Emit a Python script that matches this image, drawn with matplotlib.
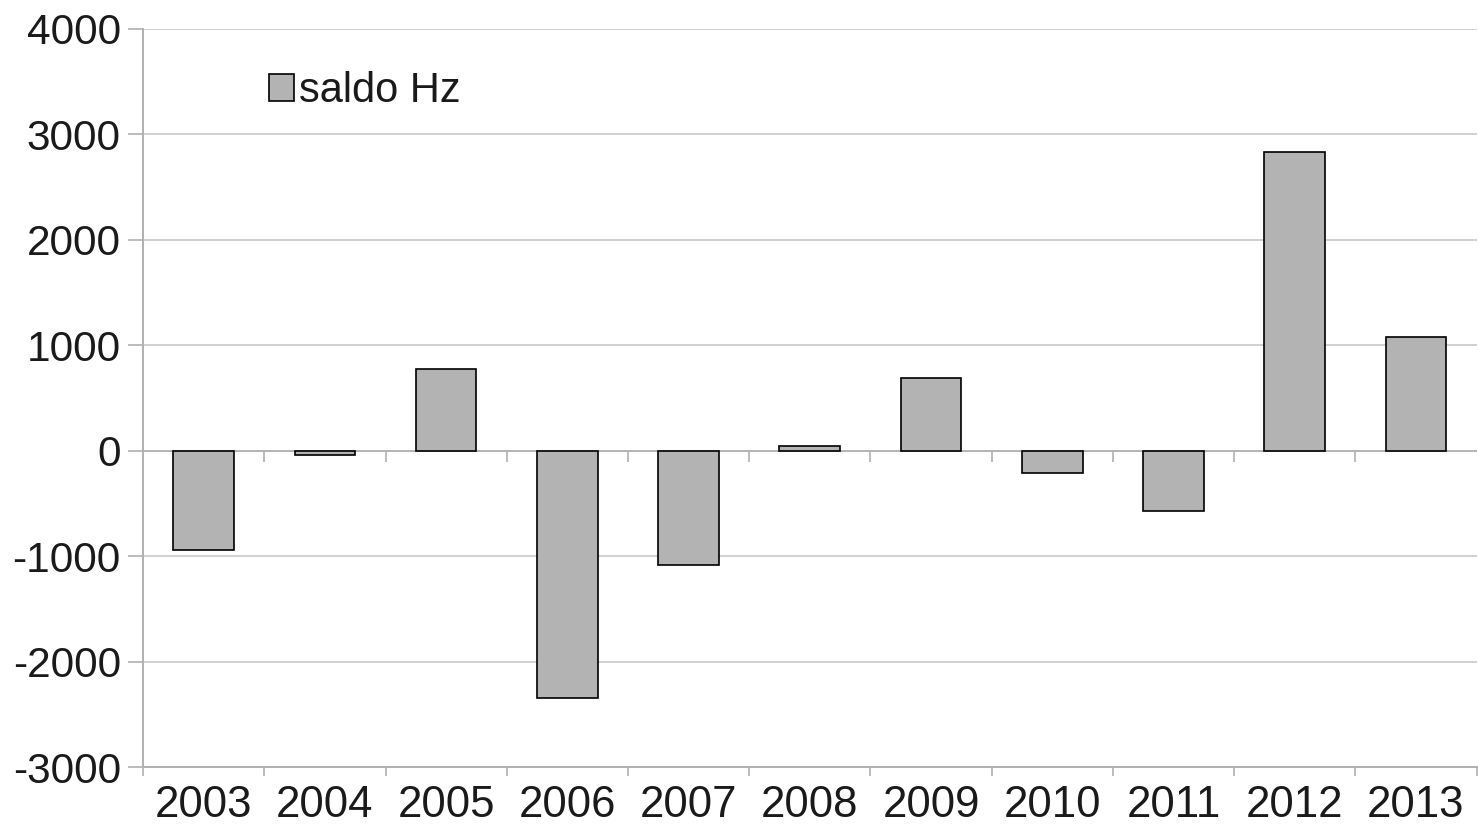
import numpy as np
import matplotlib.pyplot as plt
from matplotlib.transforms import blended_transform_factory

plt.rcParams['font.family'] = ['Liberation Sans', 'DejaVu Sans']
plt.rcParams['axes.unicode_minus'] = False

years = ['2003', '2004', '2005', '2006', '2007', '2008', '2009', '2010', '2011', '2012', '2013']
saldo_hz = [-940, -40, 770, -2345, -1080, 40, 685, -215, -575, 2830, 1080]

fig = plt.figure(figsize=(14.78, 8.25), dpi=100)
ax = fig.add_axes([0.0968, 0.0703, 0.9022, 0.8947])

x = np.arange(len(years))
ax.bar(x, saldo_hz, width=0.5, color='#b3b3b3', edgecolor='black', linewidth=1.2,
       label='saldo Hz', zorder=3)

ax.set_xlim(-0.5, len(years) - 0.5)
ax.set_ylim(-3000, 4000)
ax.set_yticks(np.arange(-3000, 4001, 1000))
ax.yaxis.grid(True, color='#c8c8c8', linewidth=1.2, zorder=0)
ax.set_axisbelow(True)

# category boundaries as ticks, labels centred on categories
ax.set_xticks(np.arange(-0.5, len(years), 1.0))
ax.set_xticklabels([])
ax.set_xticks(x, minor=True)
ax.set_xticklabels(years, minor=True)
ax.tick_params(axis='x', which='minor', length=0, pad=13, labelsize=31.5, labelcolor='#1a1a1a')
ax.tick_params(axis='x', which='major', length=6.5, color='#b0b0b0', width=1.2)
ax.tick_params(axis='y', length=11, color='#b0b0b0', width=1.2, labelsize=30.5, pad=5,
               labelcolor='#1a1a1a')

for side in ['top', 'right']:
    ax.spines[side].set_visible(False)
for side in ['left', 'bottom']:
    ax.spines[side].set_color('#b0b0b0')
    ax.spines[side].set_linewidth(1.4)

# zero line with small boundary ticks
ax.axhline(0, color='#b0b0b0', linewidth=1.2, zorder=2)
trans = blended_transform_factory(ax.transData, ax.transAxes)
zero_ax = 3000 / 7000
ax.vlines(np.arange(0.5, len(years) - 0.5, 1.0), zero_ax - 0.016, zero_ax,
          transform=trans, color='#b0b0b0', linewidth=1.2, zorder=2)

leg = ax.legend(loc='upper left', bbox_to_anchor=(0.082, 0.965), frameon=False,
                fontsize=30, handlelength=0.6, handleheight=0.6, handletextpad=0.12,
                borderaxespad=0)
for t in leg.get_texts():
    t.set_color('#1a1a1a')

fig.savefig('out.png', dpi=100)
